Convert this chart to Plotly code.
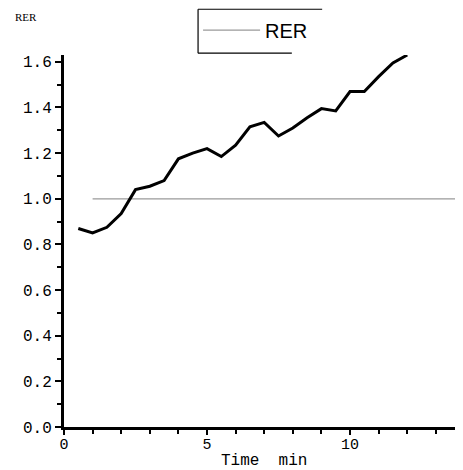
import plotly.graph_objects as go

time_min = [0.5, 1.0, 1.5, 2.0, 2.5, 3.0, 3.5, 4.0, 4.5, 5.0, 5.5, 6.0,
            6.5, 7.0, 7.5, 8.0, 8.5, 9.0, 9.5, 10.0, 10.5, 11.0, 11.5, 12.0]
rer = [0.87, 0.85, 0.875, 0.935, 1.04, 1.055, 1.08, 1.175, 1.20, 1.22, 1.185, 1.235,
       1.315, 1.335, 1.275, 1.31, 1.355, 1.395, 1.385, 1.47, 1.47, 1.535, 1.595, 1.63]
ref_x = [1.0, 14.0]
ref_y = [1.0, 1.0]
y_ticks = [0.0, 0.2, 0.4, 0.6, 0.8, 1.0, 1.2, 1.4, 1.6]
y_labels = ["0.0", "0.2", "0.4", "0.6", "0.8", "1.0", "1.2", "1.4", "1.6"]
x_ticks = [0, 5, 10]
x_labels = ["0", "5", "10"]

mono = "Liberation Mono"

fig = go.Figure()
fig.add_trace(go.Scatter(x=ref_x, y=ref_y, mode="lines", name="RER",
                         line=dict(color="#9a9a9a", width=1.2), showlegend=True))
fig.add_trace(go.Scatter(x=time_min, y=rer, mode="lines", name="RER data",
                         line=dict(color="black", width=3), showlegend=False))

box = dict(type="line", xref="paper", yref="paper", line=dict(color="black", width=1.2))
fig.update_layout(
    width=455, height=462,
    margin=dict(l=56, r=0, t=47, b=43, autoexpand=False),
    paper_bgcolor="white", plot_bgcolor="white",
    showlegend=True,
    legend=dict(x=0.336, y=1.067, xanchor="left", yanchor="middle",
                borderwidth=0, bgcolor="rgba(0,0,0,0)",
                font=dict(family="Liberation Sans", size=20, color="black"),
                itemwidth=57, tracegroupgap=0),
    xaxis=dict(range=[0, 13.95], tickvals=x_ticks, ticktext=x_labels, automargin=False,
               showgrid=False, zeroline=False, showline=True, linecolor="black",
               linewidth=3, ticks="outside", ticklen=5, tickwidth=2, tickcolor="black",
               ticklabelstandoff=-4,
               tickfont=dict(family=mono, size=15, color="black"),
               minor=dict(dtick=1, ticks="outside", ticklen=4, tickwidth=2, tickcolor="black")),
    yaxis=dict(range=[0, 1.63], tickvals=y_ticks, ticktext=y_labels, automargin=False,
               showgrid=False, zeroline=False, showline=True, linecolor="black",
               linewidth=3, ticks="outside", ticklen=6, tickwidth=2, tickcolor="black",
               tickfont=dict(family=mono, size=16, color="black"),
               minor=dict(dtick=0.1, ticks="outside", ticklen=4, tickwidth=2, tickcolor="black")),
    shapes=[
        dict(box, x0=0.336, x1=0.647, y0=1.123, y1=1.123),
        dict(box, x0=0.336, x1=0.336, y0=1.123, y1=1.005),
        dict(box, x0=0.336, x1=0.571, y0=1.005, y1=1.005),
    ],
    annotations=[
        dict(text="RER", xref="paper", yref="paper", x=-0.128, y=1.102,
             xanchor="left", yanchor="middle", showarrow=False,
             font=dict(family="Liberation Serif", size=11, color="black")),
        dict(text="Time  min", xref="paper", yref="paper", x=0.5, y=-0.091,
             xanchor="center", yanchor="middle", showarrow=False,
             font=dict(family=mono, size=16, color="black")),
    ],
)

fig.write_html("out.html")
